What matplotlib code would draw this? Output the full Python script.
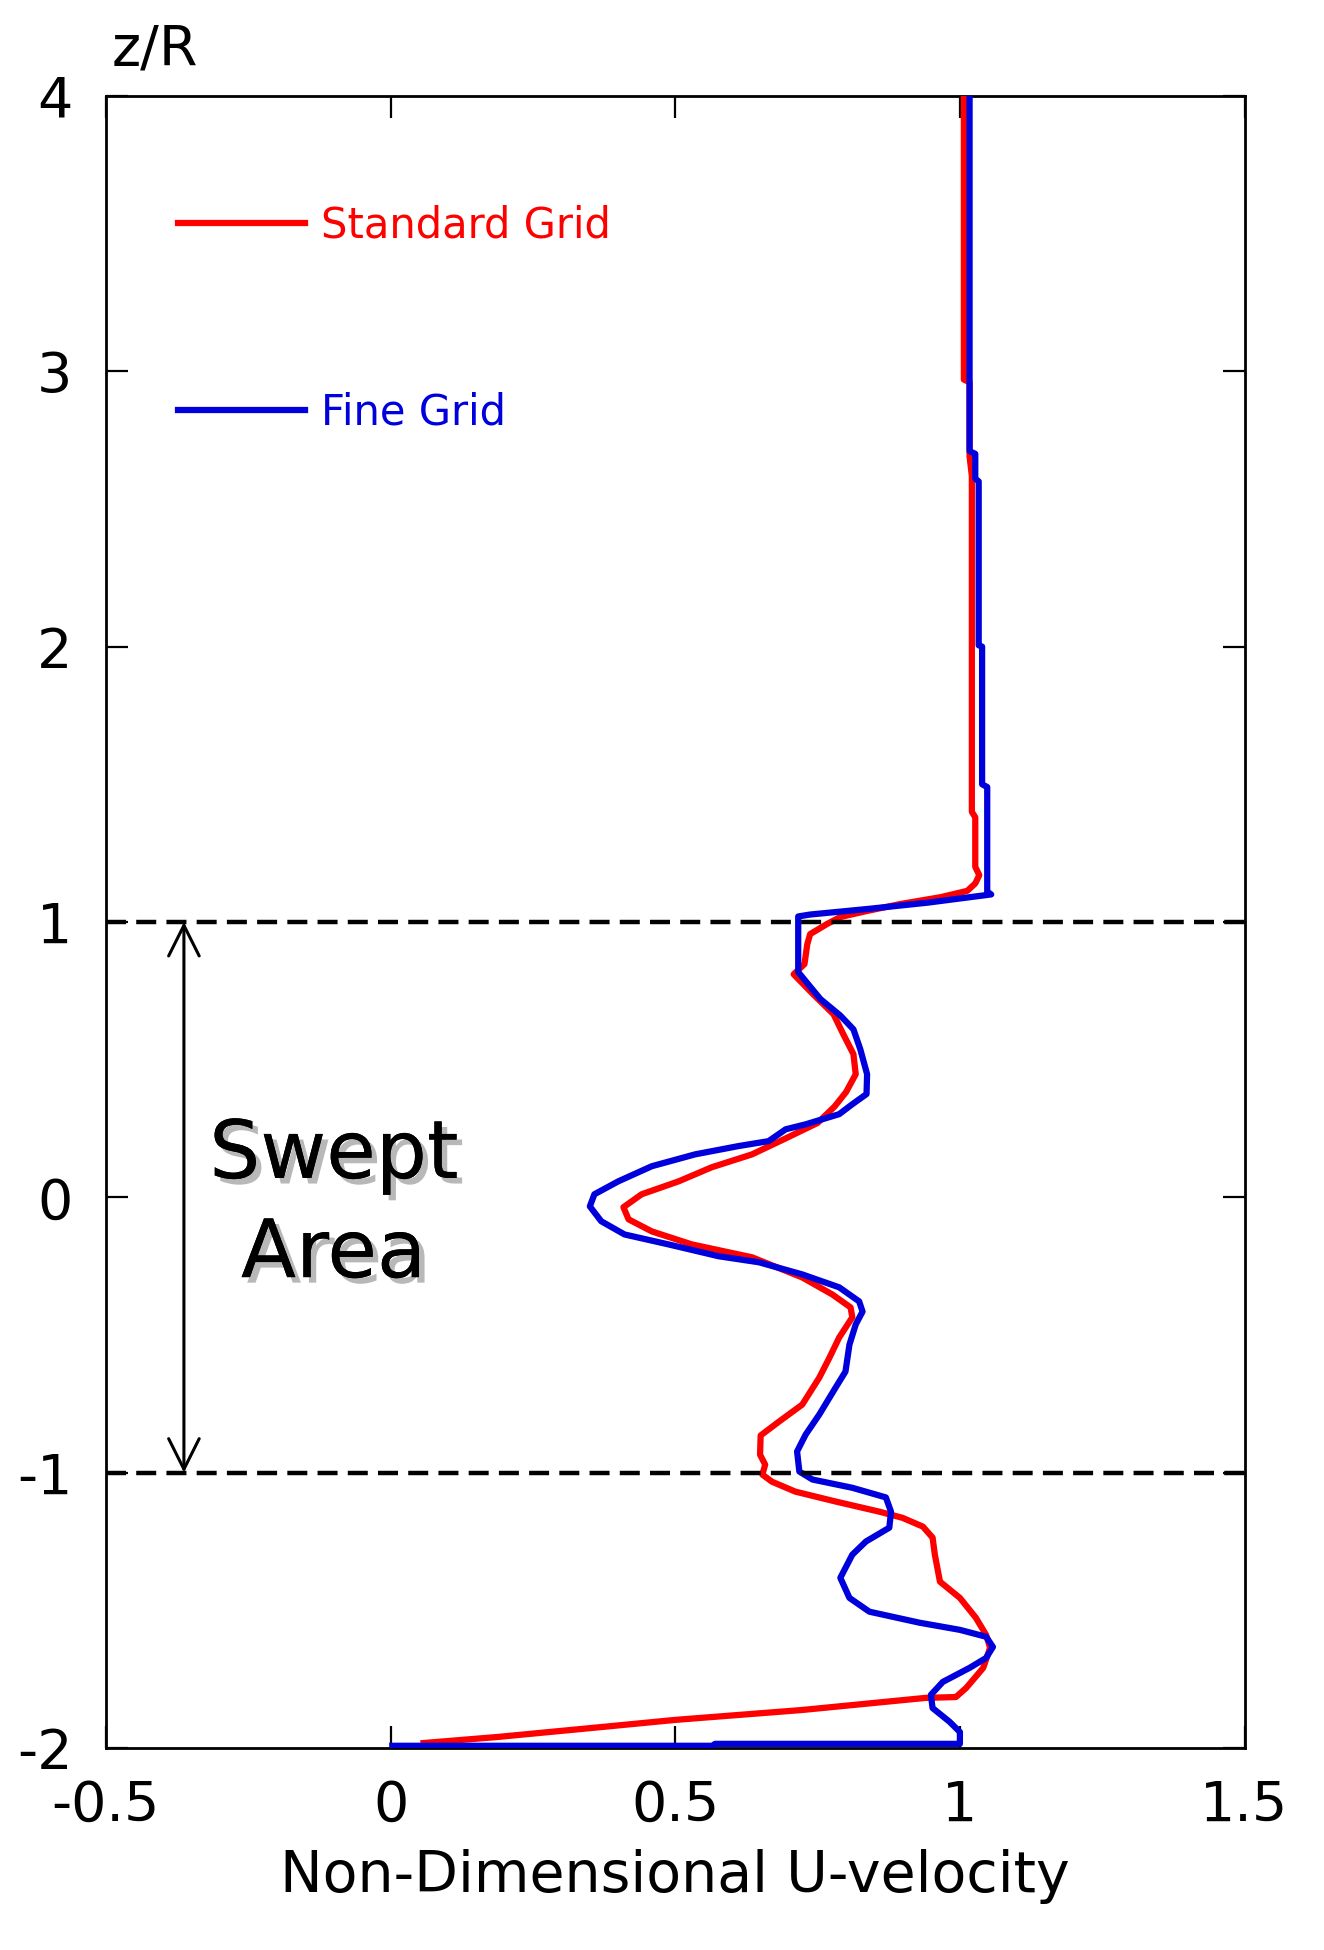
import matplotlib
matplotlib.use("Agg")
import matplotlib.pyplot as plt
import matplotlib.patheffects as pe

plt.rcParams["axes.unicode_minus"] = False

# Standard grid profile (u, z/R), read from top to bottom
std_u = [1.007, 1.007, 1.017, 1.017, 1.021, 1.021, 1.027, 1.027, 1.034, 1.027,
         1.013, 0.966, 0.895, 0.837, 0.790, 0.767, 0.737, 0.732, 0.727, 0.708,
         0.742, 0.778, 0.795, 0.813, 0.817, 0.800, 0.780, 0.750, 0.690, 0.635,
         0.564, 0.506, 0.441, 0.409, 0.418, 0.459, 0.529, 0.635, 0.723, 0.776,
         0.808, 0.811, 0.788, 0.771, 0.753, 0.723, 0.682, 0.650, 0.649, 0.658,
         0.653, 0.670, 0.711, 0.782, 0.859, 0.899, 0.935, 0.952, 0.956, 0.965,
         1.000, 1.028, 1.046, 1.053, 1.041, 1.011, 0.993, 0.940, 0.723, 0.500,
         0.370, 0.188, 0.058]
std_z = [4.00, 2.97, 2.96, 2.69, 2.62, 1.40, 1.38, 1.20, 1.17, 1.14,
         1.113, 1.09, 1.065, 1.04, 1.018, 0.993, 0.956, 0.92, 0.847, 0.81,
         0.738, 0.665, 0.593, 0.52, 0.447, 0.382, 0.33, 0.27, 0.21, 0.156,
         0.109, 0.058, 0.011, -0.036, -0.08, -0.124, -0.171, -0.218, -0.291, -0.353,
         -0.40, -0.436, -0.509, -0.582, -0.655, -0.753, -0.815, -0.865, -0.935, -0.971,
         -1.007, -1.033, -1.069, -1.105, -1.142, -1.164, -1.196, -1.236, -1.298, -1.396,
         -1.455, -1.527, -1.589, -1.636, -1.709, -1.782, -1.815, -1.818, -1.862, -1.898,
         -1.924, -1.960, -1.982]

# Fine grid profile (u, z/R)
fine_u = [1.017, 1.017, 1.027, 1.027, 1.033, 1.033, 1.039, 1.039, 1.048, 1.048,
          1.055, 0.943, 0.837, 0.737, 0.716, 0.716, 0.735, 0.755, 0.790, 0.813,
          0.825, 0.837, 0.836, 0.811, 0.788, 0.729, 0.694, 0.664, 0.611, 0.535,
          0.459, 0.400, 0.358, 0.350, 0.370, 0.411, 0.488, 0.576, 0.647, 0.723,
          0.788, 0.823, 0.829, 0.817, 0.806, 0.799, 0.782, 0.753, 0.729, 0.714,
          0.718, 0.741, 0.811, 0.870, 0.879, 0.876, 0.835, 0.811, 0.790, 0.806,
          0.841, 0.929, 1.000, 1.046, 1.058, 1.046, 1.017, 0.970, 0.949, 0.952,
          0.982, 1.000, 1.000, 0.570, 0.565, 0.003]
fine_z = [4.00, 2.71, 2.70, 2.61, 2.60, 2.005, 2.00, 1.50, 1.49, 1.11,
          1.10, 1.07, 1.047, 1.027, 1.02, 0.818, 0.77, 0.72, 0.66, 0.61,
          0.538, 0.447, 0.375, 0.338, 0.302, 0.265, 0.247, 0.204, 0.186, 0.156,
          0.113, 0.058, 0.011, -0.033, -0.087, -0.135, -0.171, -0.214, -0.236, -0.280,
          -0.327, -0.378, -0.415, -0.462, -0.535, -0.633, -0.690, -0.789, -0.862, -0.923,
          -0.996, -1.025, -1.055, -1.090, -1.142, -1.200, -1.250, -1.298, -1.382, -1.455,
          -1.505, -1.545, -1.571, -1.596, -1.633, -1.673, -1.709, -1.760, -1.807, -1.855,
          -1.905, -1.942, -1.985, -1.985, -1.992, -1.992]

x_ticks = [-0.5, 0, 0.5, 1, 1.5]
x_labels = ["-0.5", "0", "0.5", "1", "1.5"]
y_ticks = [-2, -1, 0, 1, 2, 3, 4]
rotor_edges = [1, -1]

fig = plt.figure(figsize=(13.24, 19.5), dpi=100)
ax = fig.add_axes([0.080, 0.1036, 0.860, 0.8472])

ax.plot(std_u, std_z, color="#ff0000", lw=4.5, label="Standard Grid", zorder=3)
ax.plot(fine_u, fine_z, color="#0000dd", lw=4.5, label="Fine Grid", zorder=4)

for zr in rotor_edges:
    ax.axhline(zr, color="black", lw=3.2, linestyle=(0, (4.5, 2.3)), zorder=5)

ax.annotate("", xy=(-0.363, 1), xytext=(-0.363, -1),
            arrowprops=dict(arrowstyle="<->", lw=2.2, color="black",
                            mutation_scale=55, shrinkA=0, shrinkB=0))

shadow = [pe.withSimplePatchShadow(offset=(4, -4), shadow_rgbFace="0.45", alpha=0.5),
          pe.Normal()]
ax.text(-0.10, 0.15, "Swept", fontsize=58, ha="center", va="center", path_effects=shadow)
ax.text(-0.10, -0.21, "Area", fontsize=58, ha="center", va="center", path_effects=shadow)

ax.set_xlim(-0.5, 1.5)
ax.set_ylim(-2, 4)
ax.set_xticks(x_ticks)
ax.set_xticklabels(x_labels)
ax.set_yticks(y_ticks)
ax.tick_params(direction="in", length=16, width=1.6, labelsize=40,
               top=True, right=True)
ax.tick_params(axis="x", pad=22)
ax.tick_params(axis="y", pad=24)
for s in ax.spines.values():
    s.set_linewidth(2)

ax.set_xlabel("Non-Dimensional U-velocity", fontsize=41, labelpad=12)
ax.text(0.005, 1.012, "z/R", transform=ax.transAxes, fontsize=40,
        ha="left", va="bottom")

leg = ax.legend(loc="upper left", bbox_to_anchor=(0.063, 0.934), frameon=False,
                fontsize=30, handlelength=3.05, handletextpad=0.4,
                labelspacing=3.47, borderpad=0, borderaxespad=0,
                labelcolor="linecolor")

fig.savefig("out.png", dpi=100)
